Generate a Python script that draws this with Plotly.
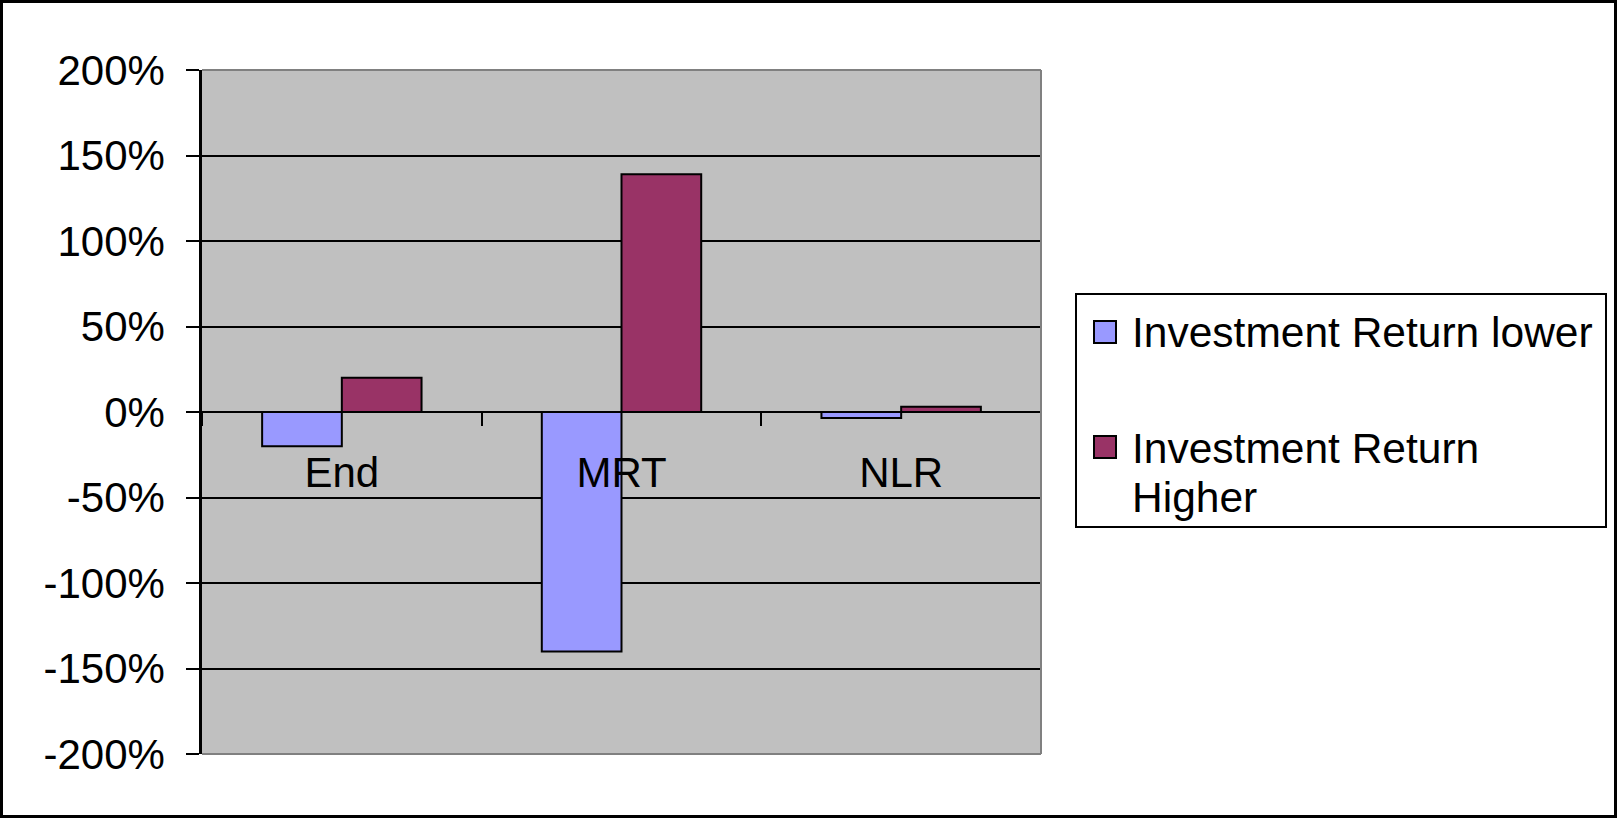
import plotly.graph_objects as go

# Data
categories = ["End", "MRT", "NLR"]
return_lower = [-0.20, -1.40, -0.035]
return_higher = [0.20, 1.39, 0.03]
series_names = ["Investment Return lower", "Investment Return Higher"]
y_tick_values = [-2.0, -1.5, -1.0, -0.5, 0.0, 0.5, 1.0, 1.5, 2.0]
y_tick_labels = ["-200%", "-150%", "-100%", "-50%", "0%", "50%", "100%", "150%", "200%"]

W, H = 1617, 818
FONT = "Liberation Sans, Arial, sans-serif"
FS = 42
LOWER_COLOR = "#9999FF"
HIGHER_COLOR = "#993366"

# plot area in pixels -> paper fractions
x_dom = [202 / W, 1041 / W]
y_dom = [1 - 754 / H, 1 - 70 / H]
zero_pos = (y_dom[0] + y_dom[1]) / 2  # y range is symmetric, so 0 sits mid-domain

fig = go.Figure()
fig.add_trace(go.Bar(
    x=categories, y=return_lower, name=series_names[0],
    marker=dict(color=LOWER_COLOR, line=dict(color="black", width=2)),
    showlegend=False,
))
fig.add_trace(go.Bar(
    x=categories, y=return_higher, name=series_names[1],
    marker=dict(color=HIGHER_COLOR, line=dict(color="black", width=2)),
    showlegend=False,
))

fig.update_layout(
    width=W, height=H,
    margin=dict(l=0, r=0, t=0, b=0),
    paper_bgcolor="white",
    plot_bgcolor="#C0C0C0",
    barmode="group",
    bargap=0.43,
    bargroupgap=0,
    font=dict(family=FONT, size=FS, color="black"),
    xaxis=dict(
        type="category",
        domain=x_dom,
        anchor="free",
        position=zero_pos,
        showline=True, linecolor="black", linewidth=2,
        ticks="outside", ticklen=13, tickwidth=2, tickcolor="black",
        tickson="boundaries",
        showgrid=False, zeroline=False,
        ticklabelstandoff=24,
        tickfont=dict(family=FONT, size=FS, color="black"),
        automargin=False,
    ),
    yaxis=dict(
        domain=y_dom,
        range=[-2, 2],
        tickvals=y_tick_values,
        ticktext=y_tick_labels,
        showline=True, linecolor="black", linewidth=2.5,
        ticks="outside", ticklen=13, tickwidth=2, tickcolor="black",
        showgrid=True, gridcolor="black", gridwidth=2,
        zeroline=False,
        ticklabelstandoff=13,
        tickfont=dict(family=FONT, size=FS, color="black"),
        automargin=False,
    ),
)

shapes = []
# grey plot-area edges (top, right, bottom)
for x0, y0, x1, y1 in [(0, 1, 1, 1), (1, 0, 1, 1), (0, 0, 1, 0)]:
    shapes.append(dict(type="line", xref="x domain", yref="y domain",
                       x0=x0, y0=y0, x1=x1, y1=y1,
                       line=dict(color="#808080", width=2), layer="above"))

# outer chart frame
shapes.append(dict(type="rect", xref="paper", yref="paper",
                   x0=1.5 / W, y0=1.5 / H, x1=1 - 1.5 / W, y1=1 - 1.5 / H,
                   line=dict(color="black", width=3)))

# legend box
shapes.append(dict(type="rect", xref="paper", yref="paper",
                   x0=1076 / W, x1=1606 / W, y0=1 - 527 / H, y1=1 - 294 / H,
                   line=dict(color="black", width=2), fillcolor="white"))

# legend swatches
for color, cy in [(LOWER_COLOR, 332), (HIGHER_COLOR, 447)]:
    shapes.append(dict(type="rect", xref="paper", yref="paper",
                       x0=1094 / W, x1=1116 / W,
                       y0=1 - (cy + 11) / H, y1=1 - (cy - 11) / H,
                       line=dict(color="black", width=2), fillcolor=color))

fig.update_layout(shapes=shapes)

# legend labels
higher_words = series_names[1].rsplit(" ", 1)
legend_lines = [(series_names[0], 332), (higher_words[0], 448), (higher_words[1], 497)]
for text, cy in legend_lines:
    fig.add_annotation(
        text=text, xref="paper", yref="paper",
        x=1130 / W, y=1 - cy / H, xanchor="left", yanchor="middle",
        showarrow=False, font=dict(family=FONT, size=42.5, color="black"),
    )

fig.write_html("out.html")
